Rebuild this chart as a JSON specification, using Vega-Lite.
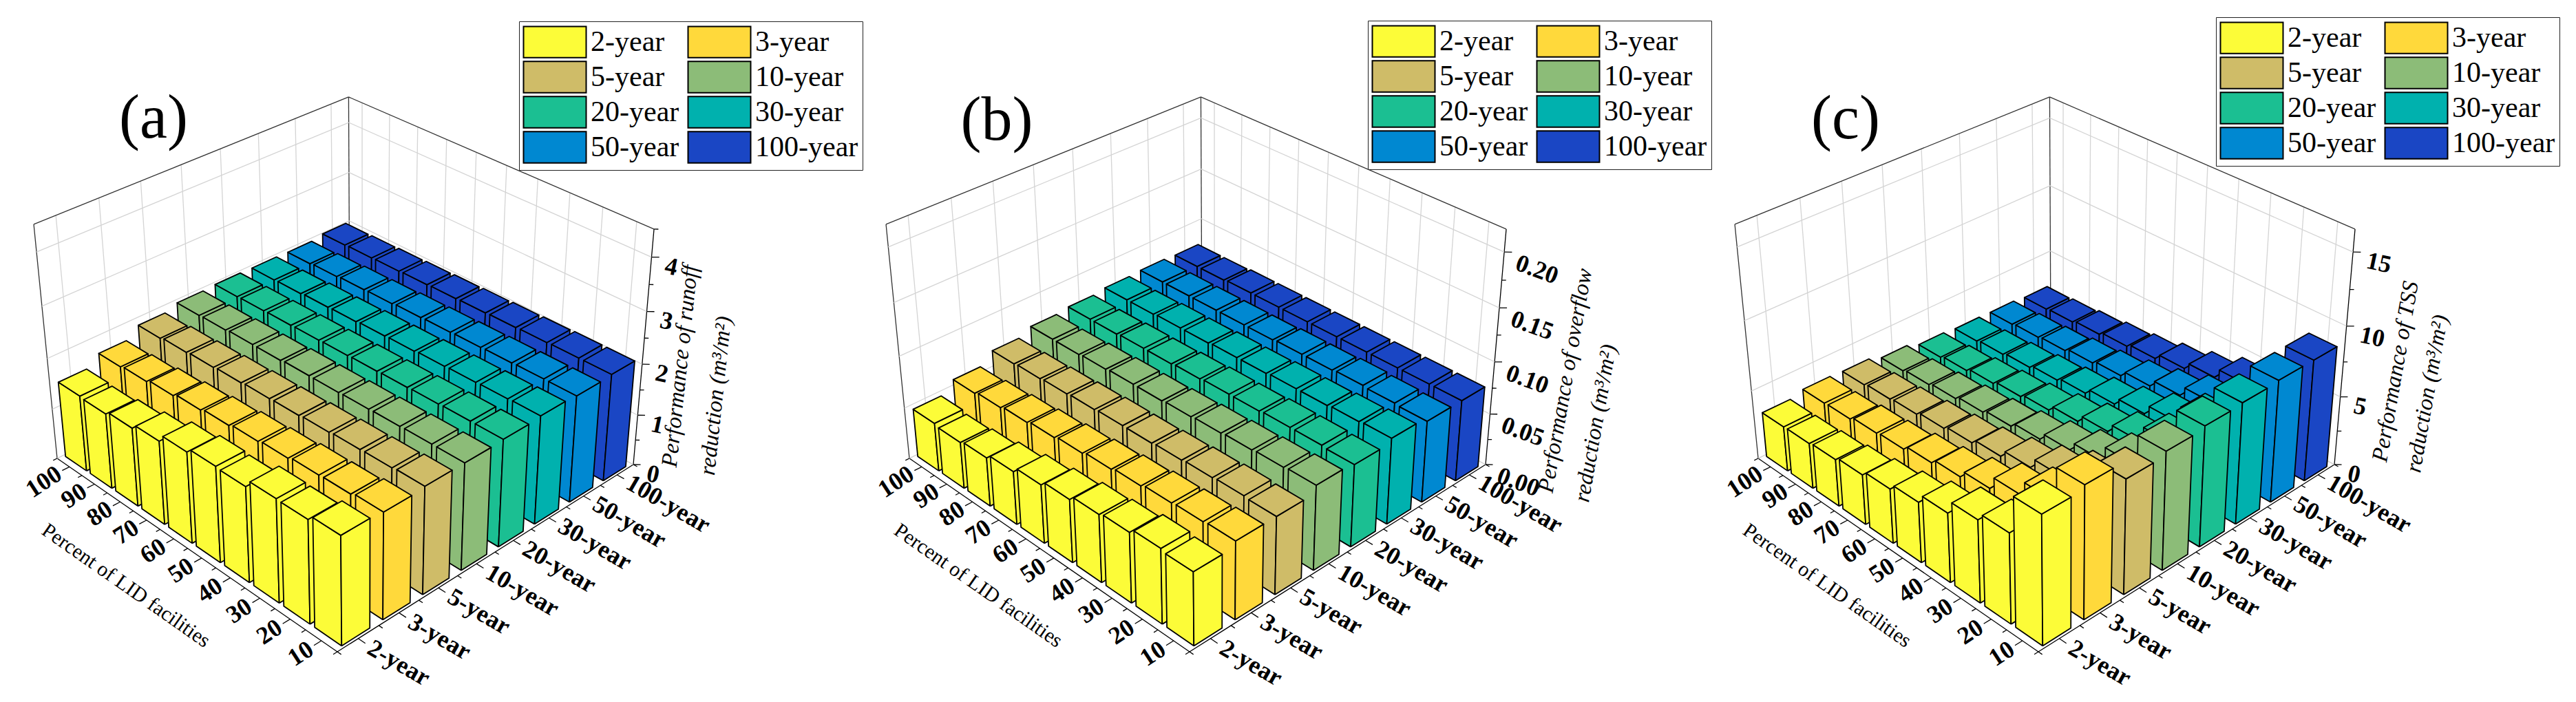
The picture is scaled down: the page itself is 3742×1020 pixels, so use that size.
{"$schema":"https://vega.github.io/schema/vega-lite/v6.json","padding":0,"spacing":0,"bounds":"flush","background":"white","config":{"view":{"stroke":null},"concat":{"spacing":0}},
"datasets":{
"segs":[
{"kind":"grid","ua":0,"va":1,"wa":0,"ub":1,"vb":1,"wb":0},{"kind":"grid","ua":1,"va":1,"wa":0,"ub":1,"vb":0,"wb":0},
{"kind":"grid","ua":0.0625,"va":1,"wa":0,"ub":0.0625,"vb":1,"wb":1},{"kind":"grid","ua":0.1875,"va":1,"wa":0,"ub":0.1875,"vb":1,"wb":1},{"kind":"grid","ua":0.3125,"va":1,"wa":0,"ub":0.3125,"vb":1,"wb":1},{"kind":"grid","ua":0.4375,"va":1,"wa":0,"ub":0.4375,"vb":1,"wb":1},{"kind":"grid","ua":0.5625,"va":1,"wa":0,"ub":0.5625,"vb":1,"wb":1},{"kind":"grid","ua":0.6875,"va":1,"wa":0,"ub":0.6875,"vb":1,"wb":1},{"kind":"grid","ua":0.8125,"va":1,"wa":0,"ub":0.8125,"vb":1,"wb":1},{"kind":"grid","ua":0.9375,"va":1,"wa":0,"ub":0.9375,"vb":1,"wb":1},
{"kind":"grid","ua":1,"va":0.05,"wa":0,"ub":1,"vb":0.05,"wb":1},{"kind":"grid","ua":1,"va":0.15,"wa":0,"ub":1,"vb":0.15,"wb":1},{"kind":"grid","ua":1,"va":0.25,"wa":0,"ub":1,"vb":0.25,"wb":1},{"kind":"grid","ua":1,"va":0.35,"wa":0,"ub":1,"vb":0.35,"wb":1},{"kind":"grid","ua":1,"va":0.45,"wa":0,"ub":1,"vb":0.45,"wb":1},{"kind":"grid","ua":1,"va":0.55,"wa":0,"ub":1,"vb":0.55,"wb":1},{"kind":"grid","ua":1,"va":0.65,"wa":0,"ub":1,"vb":0.65,"wb":1},{"kind":"grid","ua":1,"va":0.75,"wa":0,"ub":1,"vb":0.75,"wb":1},{"kind":"grid","ua":1,"va":0.85,"wa":0,"ub":1,"vb":0.85,"wb":1},{"kind":"grid","ua":1,"va":0.95,"wa":0,"ub":1,"vb":0.95,"wb":1},
{"kind":"frame","ua":0,"va":1,"wa":1,"ub":1,"vb":1,"wb":1},{"kind":"frame","ua":1,"va":1,"wa":1,"ub":1,"vb":0,"wb":1},{"kind":"frame","ua":0,"va":1,"wa":1,"ub":0,"vb":1,"wb":0},{"kind":"frame","ua":1,"va":1,"wa":1,"ub":1,"vb":1,"wb":0},
{"kind":"axis","ua":0,"va":0,"wa":0,"ub":0,"vb":1,"wb":0},{"kind":"axis","ua":0,"va":0,"wa":0,"ub":1,"vb":0,"wb":0},{"kind":"axis","ua":1,"va":0,"wa":0,"ub":1,"vb":0,"wb":1},
{"kind":"axis","ua":0.0625,"va":0,"wa":0,"ub":0.0625,"vb":-0.022,"wb":0},{"kind":"axis","ua":0.1875,"va":0,"wa":0,"ub":0.1875,"vb":-0.022,"wb":0},{"kind":"axis","ua":0.3125,"va":0,"wa":0,"ub":0.3125,"vb":-0.022,"wb":0},{"kind":"axis","ua":0.4375,"va":0,"wa":0,"ub":0.4375,"vb":-0.022,"wb":0},{"kind":"axis","ua":0.5625,"va":0,"wa":0,"ub":0.5625,"vb":-0.022,"wb":0},{"kind":"axis","ua":0.6875,"va":0,"wa":0,"ub":0.6875,"vb":-0.022,"wb":0},{"kind":"axis","ua":0.8125,"va":0,"wa":0,"ub":0.8125,"vb":-0.022,"wb":0},{"kind":"axis","ua":0.9375,"va":0,"wa":0,"ub":0.9375,"vb":-0.022,"wb":0},
{"kind":"axis","ua":0,"va":0,"wa":0,"ub":0,"vb":-0.012,"wb":0},{"kind":"axis","ua":0.125,"va":0,"wa":0,"ub":0.125,"vb":-0.012,"wb":0},{"kind":"axis","ua":0.25,"va":0,"wa":0,"ub":0.25,"vb":-0.012,"wb":0},{"kind":"axis","ua":0.375,"va":0,"wa":0,"ub":0.375,"vb":-0.012,"wb":0},{"kind":"axis","ua":0.5,"va":0,"wa":0,"ub":0.5,"vb":-0.012,"wb":0},{"kind":"axis","ua":0.625,"va":0,"wa":0,"ub":0.625,"vb":-0.012,"wb":0},{"kind":"axis","ua":0.75,"va":0,"wa":0,"ub":0.75,"vb":-0.012,"wb":0},{"kind":"axis","ua":0.875,"va":0,"wa":0,"ub":0.875,"vb":-0.012,"wb":0},{"kind":"axis","ua":1,"va":0,"wa":0,"ub":1,"vb":-0.012,"wb":0},
{"kind":"axis","ua":0,"va":0.05,"wa":0,"ub":-0.022,"vb":0.05,"wb":0},{"kind":"axis","ua":0,"va":0.15,"wa":0,"ub":-0.022,"vb":0.15,"wb":0},{"kind":"axis","ua":0,"va":0.25,"wa":0,"ub":-0.022,"vb":0.25,"wb":0},{"kind":"axis","ua":0,"va":0.35,"wa":0,"ub":-0.022,"vb":0.35,"wb":0},{"kind":"axis","ua":0,"va":0.45,"wa":0,"ub":-0.022,"vb":0.45,"wb":0},{"kind":"axis","ua":0,"va":0.55,"wa":0,"ub":-0.022,"vb":0.55,"wb":0},{"kind":"axis","ua":0,"va":0.65,"wa":0,"ub":-0.022,"vb":0.65,"wb":0},{"kind":"axis","ua":0,"va":0.75,"wa":0,"ub":-0.022,"vb":0.75,"wb":0},{"kind":"axis","ua":0,"va":0.85,"wa":0,"ub":-0.022,"vb":0.85,"wb":0},{"kind":"axis","ua":0,"va":0.95,"wa":0,"ub":-0.022,"vb":0.95,"wb":0},
{"kind":"axis","ua":0,"va":0,"wa":0,"ub":-0.012,"vb":0,"wb":0},{"kind":"axis","ua":0,"va":0.1,"wa":0,"ub":-0.012,"vb":0.1,"wb":0},{"kind":"axis","ua":0,"va":0.2,"wa":0,"ub":-0.012,"vb":0.2,"wb":0},{"kind":"axis","ua":0,"va":0.3,"wa":0,"ub":-0.012,"vb":0.3,"wb":0},{"kind":"axis","ua":0,"va":0.4,"wa":0,"ub":-0.012,"vb":0.4,"wb":0},{"kind":"axis","ua":0,"va":0.5,"wa":0,"ub":-0.012,"vb":0.5,"wb":0},{"kind":"axis","ua":0,"va":0.6,"wa":0,"ub":-0.012,"vb":0.6,"wb":0},{"kind":"axis","ua":0,"va":0.7,"wa":0,"ub":-0.012,"vb":0.7,"wb":0},{"kind":"axis","ua":0,"va":0.8,"wa":0,"ub":-0.012,"vb":0.8,"wb":0},{"kind":"axis","ua":0,"va":0.9,"wa":0,"ub":-0.012,"vb":0.9,"wb":0},{"kind":"axis","ua":0,"va":1,"wa":0,"ub":-0.012,"vb":1,"wb":0}
],
"vticks":[
{"g":"a","value":0,"major":true},{"g":"a","value":1,"major":true},{"g":"a","value":2,"major":true},{"g":"a","value":3,"major":true},{"g":"a","value":4,"major":true},{"g":"a","value":0.5,"major":false},{"g":"a","value":1.5,"major":false},{"g":"a","value":2.5,"major":false},{"g":"a","value":3.5,"major":false},{"g":"a","value":4.5,"major":false},
{"g":"b","value":0,"major":true},{"g":"b","value":0.05,"major":true},{"g":"b","value":0.1,"major":true},{"g":"b","value":0.15,"major":true},{"g":"b","value":0.2,"major":true},{"g":"b","value":0.025,"major":false},{"g":"b","value":0.075,"major":false},{"g":"b","value":0.125,"major":false},{"g":"b","value":0.175,"major":false},
{"g":"c","value":0,"major":true},{"g":"c","value":5,"major":true},{"g":"c","value":10,"major":true},{"g":"c","value":15,"major":true},{"g":"c","value":2.5,"major":false},{"g":"c","value":7.5,"major":false},{"g":"c","value":12.5,"major":false}
],
"catlabels":[
{"axis":"period","label":"2-year","pos":0.0625},{"axis":"period","label":"3-year","pos":0.1875},{"axis":"period","label":"5-year","pos":0.3125},{"axis":"period","label":"10-year","pos":0.4375},{"axis":"period","label":"20-year","pos":0.5625},{"axis":"period","label":"30-year","pos":0.6875},{"axis":"period","label":"50-year","pos":0.8125},{"axis":"period","label":"100-year","pos":0.9375},
{"axis":"percent","label":"10","pos":0.05},{"axis":"percent","label":"20","pos":0.15},{"axis":"percent","label":"30","pos":0.25},{"axis":"percent","label":"40","pos":0.35},{"axis":"percent","label":"50","pos":0.45},{"axis":"percent","label":"60","pos":0.55},{"axis":"percent","label":"70","pos":0.65},{"axis":"percent","label":"80","pos":0.75},{"axis":"percent","label":"90","pos":0.85},{"axis":"percent","label":"100","pos":0.95}
],
"bars":[
{"g":"a","period":"100-year","i":7,"percent":100,"value":2.02},{"g":"a","period":"100-year","i":7,"percent":90,"value":2.03},{"g":"a","period":"100-year","i":7,"percent":80,"value":2.04},{"g":"a","period":"100-year","i":7,"percent":70,"value":2.05},{"g":"a","period":"100-year","i":7,"percent":60,"value":2.06},{"g":"a","period":"100-year","i":7,"percent":50,"value":2.07},{"g":"a","period":"100-year","i":7,"percent":40,"value":2.08},{"g":"a","period":"100-year","i":7,"percent":30,"value":2.09},{"g":"a","period":"100-year","i":7,"percent":20,"value":2.1},{"g":"a","period":"100-year","i":7,"percent":10,"value":2.1},
{"g":"a","period":"50-year","i":6,"percent":100,"value":1.97},{"g":"a","period":"50-year","i":6,"percent":90,"value":1.99},{"g":"a","period":"50-year","i":6,"percent":80,"value":2.01},{"g":"a","period":"50-year","i":6,"percent":70,"value":2.02},{"g":"a","period":"50-year","i":6,"percent":60,"value":2.04},{"g":"a","period":"50-year","i":6,"percent":50,"value":2.05},{"g":"a","period":"50-year","i":6,"percent":40,"value":2.06},{"g":"a","period":"50-year","i":6,"percent":30,"value":2.07},{"g":"a","period":"50-year","i":6,"percent":20,"value":2.08},{"g":"a","period":"50-year","i":6,"percent":10,"value":2.08},
{"g":"a","period":"30-year","i":5,"percent":100,"value":1.98},{"g":"a","period":"30-year","i":5,"percent":90,"value":1.99},{"g":"a","period":"30-year","i":5,"percent":80,"value":2.01},{"g":"a","period":"30-year","i":5,"percent":70,"value":2.02},{"g":"a","period":"30-year","i":5,"percent":60,"value":2.04},{"g":"a","period":"30-year","i":5,"percent":50,"value":2.05},{"g":"a","period":"30-year","i":5,"percent":40,"value":2.07},{"g":"a","period":"30-year","i":5,"percent":30,"value":2.08},{"g":"a","period":"30-year","i":5,"percent":20,"value":2.09},{"g":"a","period":"30-year","i":5,"percent":10,"value":2.1},
{"g":"a","period":"20-year","i":4,"percent":100,"value":1.99},{"g":"a","period":"20-year","i":4,"percent":90,"value":2.0},{"g":"a","period":"20-year","i":4,"percent":80,"value":2.01},{"g":"a","period":"20-year","i":4,"percent":70,"value":2.02},{"g":"a","period":"20-year","i":4,"percent":60,"value":2.03},{"g":"a","period":"20-year","i":4,"percent":50,"value":2.04},{"g":"a","period":"20-year","i":4,"percent":40,"value":2.05},{"g":"a","period":"20-year","i":4,"percent":30,"value":2.06},{"g":"a","period":"20-year","i":4,"percent":20,"value":2.07},{"g":"a","period":"20-year","i":4,"percent":10,"value":2.07},
{"g":"a","period":"10-year","i":3,"percent":100,"value":1.97},{"g":"a","period":"10-year","i":3,"percent":90,"value":1.98},{"g":"a","period":"10-year","i":3,"percent":80,"value":2.0},{"g":"a","period":"10-year","i":3,"percent":70,"value":2.0},{"g":"a","period":"10-year","i":3,"percent":60,"value":2.02},{"g":"a","period":"10-year","i":3,"percent":50,"value":2.02},{"g":"a","period":"10-year","i":3,"percent":40,"value":2.03},{"g":"a","period":"10-year","i":3,"percent":30,"value":2.04},{"g":"a","period":"10-year","i":3,"percent":20,"value":2.05},{"g":"a","period":"10-year","i":3,"percent":10,"value":2.05},
{"g":"a","period":"5-year","i":2,"percent":100,"value":1.88},{"g":"a","period":"5-year","i":2,"percent":90,"value":1.91},{"g":"a","period":"5-year","i":2,"percent":80,"value":1.93},{"g":"a","period":"5-year","i":2,"percent":70,"value":1.95},{"g":"a","period":"5-year","i":2,"percent":60,"value":1.97},{"g":"a","period":"5-year","i":2,"percent":50,"value":1.98},{"g":"a","period":"5-year","i":2,"percent":40,"value":2.0},{"g":"a","period":"5-year","i":2,"percent":30,"value":2.02},{"g":"a","period":"5-year","i":2,"percent":20,"value":2.03},{"g":"a","period":"5-year","i":2,"percent":10,"value":2.05},
{"g":"a","period":"3-year","i":1,"percent":100,"value":1.69},{"g":"a","period":"3-year","i":1,"percent":90,"value":1.72},{"g":"a","period":"3-year","i":1,"percent":80,"value":1.77},{"g":"a","period":"3-year","i":1,"percent":70,"value":1.82},{"g":"a","period":"3-year","i":1,"percent":60,"value":1.86},{"g":"a","period":"3-year","i":1,"percent":50,"value":1.9},{"g":"a","period":"3-year","i":1,"percent":40,"value":1.93},{"g":"a","period":"3-year","i":1,"percent":30,"value":1.97},{"g":"a","period":"3-year","i":1,"percent":20,"value":1.98},{"g":"a","period":"3-year","i":1,"percent":10,"value":2.02},
{"g":"a","period":"2-year","i":0,"percent":100,"value":1.5},{"g":"a","period":"2-year","i":0,"percent":90,"value":1.48},{"g":"a","period":"2-year","i":0,"percent":80,"value":1.54},{"g":"a","period":"2-year","i":0,"percent":70,"value":1.63},{"g":"a","period":"2-year","i":0,"percent":60,"value":1.77},{"g":"a","period":"2-year","i":0,"percent":50,"value":1.85},{"g":"a","period":"2-year","i":0,"percent":40,"value":1.83},{"g":"a","period":"2-year","i":0,"percent":30,"value":1.97},{"g":"a","period":"2-year","i":0,"percent":20,"value":1.96},{"g":"a","period":"2-year","i":0,"percent":10,"value":2.05},
{"g":"b","period":"100-year","i":7,"percent":100,"value":0.077},{"g":"b","period":"100-year","i":7,"percent":90,"value":0.077},{"g":"b","period":"100-year","i":7,"percent":80,"value":0.078},{"g":"b","period":"100-year","i":7,"percent":70,"value":0.078},{"g":"b","period":"100-year","i":7,"percent":60,"value":0.078},{"g":"b","period":"100-year","i":7,"percent":50,"value":0.078},{"g":"b","period":"100-year","i":7,"percent":40,"value":0.078},{"g":"b","period":"100-year","i":7,"percent":30,"value":0.078},{"g":"b","period":"100-year","i":7,"percent":20,"value":0.078},{"g":"b","period":"100-year","i":7,"percent":10,"value":0.078},
{"g":"b","period":"50-year","i":6,"percent":100,"value":0.078},{"g":"b","period":"50-year","i":6,"percent":90,"value":0.078},{"g":"b","period":"50-year","i":6,"percent":80,"value":0.078},{"g":"b","period":"50-year","i":6,"percent":70,"value":0.078},{"g":"b","period":"50-year","i":6,"percent":60,"value":0.078},{"g":"b","period":"50-year","i":6,"percent":50,"value":0.079},{"g":"b","period":"50-year","i":6,"percent":40,"value":0.079},{"g":"b","period":"50-year","i":6,"percent":30,"value":0.08},{"g":"b","period":"50-year","i":6,"percent":20,"value":0.079},{"g":"b","period":"50-year","i":6,"percent":10,"value":0.078},
{"g":"b","period":"30-year","i":5,"percent":100,"value":0.077},{"g":"b","period":"30-year","i":5,"percent":90,"value":0.077},{"g":"b","period":"30-year","i":5,"percent":80,"value":0.078},{"g":"b","period":"30-year","i":5,"percent":70,"value":0.078},{"g":"b","period":"30-year","i":5,"percent":60,"value":0.079},{"g":"b","period":"30-year","i":5,"percent":50,"value":0.079},{"g":"b","period":"30-year","i":5,"percent":40,"value":0.08},{"g":"b","period":"30-year","i":5,"percent":30,"value":0.08},{"g":"b","period":"30-year","i":5,"percent":20,"value":0.081},{"g":"b","period":"30-year","i":5,"percent":10,"value":0.082},
{"g":"b","period":"20-year","i":4,"percent":100,"value":0.075},{"g":"b","period":"20-year","i":4,"percent":90,"value":0.075},{"g":"b","period":"20-year","i":4,"percent":80,"value":0.076},{"g":"b","period":"20-year","i":4,"percent":70,"value":0.076},{"g":"b","period":"20-year","i":4,"percent":60,"value":0.077},{"g":"b","period":"20-year","i":4,"percent":50,"value":0.078},{"g":"b","period":"20-year","i":4,"percent":40,"value":0.078},{"g":"b","period":"20-year","i":4,"percent":30,"value":0.079},{"g":"b","period":"20-year","i":4,"percent":20,"value":0.079},{"g":"b","period":"20-year","i":4,"percent":10,"value":0.078},
{"g":"b","period":"10-year","i":3,"percent":100,"value":0.073},{"g":"b","period":"10-year","i":3,"percent":90,"value":0.073},{"g":"b","period":"10-year","i":3,"percent":80,"value":0.074},{"g":"b","period":"10-year","i":3,"percent":70,"value":0.075},{"g":"b","period":"10-year","i":3,"percent":60,"value":0.075},{"g":"b","period":"10-year","i":3,"percent":50,"value":0.076},{"g":"b","period":"10-year","i":3,"percent":40,"value":0.077},{"g":"b","period":"10-year","i":3,"percent":30,"value":0.078},{"g":"b","period":"10-year","i":3,"percent":20,"value":0.079},{"g":"b","period":"10-year","i":3,"percent":10,"value":0.08},
{"g":"b","period":"5-year","i":2,"percent":100,"value":0.067},{"g":"b","period":"5-year","i":2,"percent":90,"value":0.068},{"g":"b","period":"5-year","i":2,"percent":80,"value":0.069},{"g":"b","period":"5-year","i":2,"percent":70,"value":0.07},{"g":"b","period":"5-year","i":2,"percent":60,"value":0.071},{"g":"b","period":"5-year","i":2,"percent":50,"value":0.071},{"g":"b","period":"5-year","i":2,"percent":40,"value":0.072},{"g":"b","period":"5-year","i":2,"percent":30,"value":0.073},{"g":"b","period":"5-year","i":2,"percent":20,"value":0.074},{"g":"b","period":"5-year","i":2,"percent":10,"value":0.073},
{"g":"b","period":"3-year","i":1,"percent":100,"value":0.057},{"g":"b","period":"3-year","i":1,"percent":90,"value":0.059},{"g":"b","period":"3-year","i":1,"percent":80,"value":0.061},{"g":"b","period":"3-year","i":1,"percent":70,"value":0.063},{"g":"b","period":"3-year","i":1,"percent":60,"value":0.065},{"g":"b","period":"3-year","i":1,"percent":50,"value":0.067},{"g":"b","period":"3-year","i":1,"percent":40,"value":0.069},{"g":"b","period":"3-year","i":1,"percent":30,"value":0.071},{"g":"b","period":"3-year","i":1,"percent":20,"value":0.072},{"g":"b","period":"3-year","i":1,"percent":10,"value":0.073},
{"g":"b","period":"2-year","i":0,"percent":100,"value":0.047},{"g":"b","period":"2-year","i":0,"percent":90,"value":0.045},{"g":"b","period":"2-year","i":0,"percent":80,"value":0.047},{"g":"b","period":"2-year","i":0,"percent":70,"value":0.051},{"g":"b","period":"2-year","i":0,"percent":60,"value":0.056},{"g":"b","period":"2-year","i":0,"percent":50,"value":0.06},{"g":"b","period":"2-year","i":0,"percent":40,"value":0.064},{"g":"b","period":"2-year","i":0,"percent":30,"value":0.066},{"g":"b","period":"2-year","i":0,"percent":20,"value":0.07},{"g":"b","period":"2-year","i":0,"percent":10,"value":0.068},
{"g":"c","period":"100-year","i":7,"percent":100,"value":2.47},{"g":"c","period":"100-year","i":7,"percent":90,"value":2.55},{"g":"c","period":"100-year","i":7,"percent":80,"value":2.7},{"g":"c","period":"100-year","i":7,"percent":70,"value":2.9},{"g":"c","period":"100-year","i":7,"percent":60,"value":3.1},{"g":"c","period":"100-year","i":7,"percent":50,"value":3.5},{"g":"c","period":"100-year","i":7,"percent":40,"value":4.0},{"g":"c","period":"100-year","i":7,"percent":30,"value":4.7},{"g":"c","period":"100-year","i":7,"percent":20,"value":5.9},{"g":"c","period":"100-year","i":7,"percent":10,"value":8.7},
{"g":"c","period":"50-year","i":6,"percent":100,"value":2.6},{"g":"c","period":"50-year","i":6,"percent":90,"value":2.7},{"g":"c","period":"50-year","i":6,"percent":80,"value":2.8},{"g":"c","period":"50-year","i":6,"percent":70,"value":3.0},{"g":"c","period":"50-year","i":6,"percent":60,"value":3.2},{"g":"c","period":"50-year","i":6,"percent":50,"value":3.6},{"g":"c","period":"50-year","i":6,"percent":40,"value":4.1},{"g":"c","period":"50-year","i":6,"percent":30,"value":4.8},{"g":"c","period":"50-year","i":6,"percent":20,"value":5.9},{"g":"c","period":"50-year","i":6,"percent":10,"value":8.7},
{"g":"c","period":"30-year","i":5,"percent":100,"value":2.64},{"g":"c","period":"30-year","i":5,"percent":90,"value":2.75},{"g":"c","period":"30-year","i":5,"percent":80,"value":2.9},{"g":"c","period":"30-year","i":5,"percent":70,"value":3.1},{"g":"c","period":"30-year","i":5,"percent":60,"value":3.3},{"g":"c","period":"30-year","i":5,"percent":50,"value":3.7},{"g":"c","period":"30-year","i":5,"percent":40,"value":4.2},{"g":"c","period":"30-year","i":5,"percent":30,"value":4.9},{"g":"c","period":"30-year","i":5,"percent":20,"value":6.06},{"g":"c","period":"30-year","i":5,"percent":10,"value":8.6},
{"g":"c","period":"20-year","i":4,"percent":100,"value":2.76},{"g":"c","period":"20-year","i":4,"percent":90,"value":2.9},{"g":"c","period":"20-year","i":4,"percent":80,"value":3.1},{"g":"c","period":"20-year","i":4,"percent":70,"value":3.3},{"g":"c","period":"20-year","i":4,"percent":60,"value":3.5},{"g":"c","period":"20-year","i":4,"percent":50,"value":3.9},{"g":"c","period":"20-year","i":4,"percent":40,"value":4.4},{"g":"c","period":"20-year","i":4,"percent":30,"value":5.0},{"g":"c","period":"20-year","i":4,"percent":20,"value":6.1},{"g":"c","period":"20-year","i":4,"percent":10,"value":8.5},
{"g":"c","period":"10-year","i":3,"percent":100,"value":3.12},{"g":"c","period":"10-year","i":3,"percent":90,"value":3.25},{"g":"c","period":"10-year","i":3,"percent":80,"value":3.4},{"g":"c","period":"10-year","i":3,"percent":70,"value":3.6},{"g":"c","period":"10-year","i":3,"percent":60,"value":3.8},{"g":"c","period":"10-year","i":3,"percent":50,"value":4.1},{"g":"c","period":"10-year","i":3,"percent":40,"value":4.6},{"g":"c","period":"10-year","i":3,"percent":30,"value":5.2},{"g":"c","period":"10-year","i":3,"percent":20,"value":6.2},{"g":"c","period":"10-year","i":3,"percent":10,"value":8.3},
{"g":"c","period":"5-year","i":2,"percent":100,"value":3.48},{"g":"c","period":"5-year","i":2,"percent":90,"value":3.6},{"g":"c","period":"5-year","i":2,"percent":80,"value":3.7},{"g":"c","period":"5-year","i":2,"percent":70,"value":3.9},{"g":"c","period":"5-year","i":2,"percent":60,"value":4.1},{"g":"c","period":"5-year","i":2,"percent":50,"value":4.4},{"g":"c","period":"5-year","i":2,"percent":40,"value":4.9},{"g":"c","period":"5-year","i":2,"percent":30,"value":5.6},{"g":"c","period":"5-year","i":2,"percent":20,"value":6.5},{"g":"c","period":"5-year","i":2,"percent":10,"value":8.0},
{"g":"c","period":"3-year","i":1,"percent":100,"value":3.55},{"g":"c","period":"3-year","i":1,"percent":90,"value":3.6},{"g":"c","period":"3-year","i":1,"percent":80,"value":3.8},{"g":"c","period":"3-year","i":1,"percent":70,"value":3.9},{"g":"c","period":"3-year","i":1,"percent":60,"value":4.2},{"g":"c","period":"3-year","i":1,"percent":50,"value":4.5},{"g":"c","period":"3-year","i":1,"percent":40,"value":5.0},{"g":"c","period":"3-year","i":1,"percent":30,"value":5.9},{"g":"c","period":"3-year","i":1,"percent":20,"value":6.9},{"g":"c","period":"3-year","i":1,"percent":10,"value":9.2},
{"g":"c","period":"2-year","i":0,"percent":100,"value":3.27},{"g":"c","period":"2-year","i":0,"percent":90,"value":3.3},{"g":"c","period":"2-year","i":0,"percent":80,"value":3.4},{"g":"c","period":"2-year","i":0,"percent":70,"value":3.6},{"g":"c","period":"2-year","i":0,"percent":60,"value":3.9},{"g":"c","period":"2-year","i":0,"percent":50,"value":4.3},{"g":"c","period":"2-year","i":0,"percent":40,"value":4.9},{"g":"c","period":"2-year","i":0,"percent":30,"value":5.8},{"g":"c","period":"2-year","i":0,"percent":20,"value":6.3},{"g":"c","period":"2-year","i":0,"percent":10,"value":8.9}
]},
"hconcat":[
{"width":1238,"height":1020,"layer":[
{"data":{"name":"segs"},"transform":[{"calculate":"(558.8*datum.ua-394.7*datum.va-43*datum.wa+490)/(1+0.14*datum.ua+0.148*datum.va-0.0813*datum.wa)","as":"x"},{"calculate":"(-177.5*datum.ua-182.4*datum.va-417*datum.wa+947)/(1+0.14*datum.ua+0.148*datum.va-0.0813*datum.wa)","as":"y"},{"calculate":"(558.8*datum.ub-394.7*datum.vb-43*datum.wb+490)/(1+0.14*datum.ub+0.148*datum.vb-0.0813*datum.wb)","as":"x2"},{"calculate":"(-177.5*datum.ub-182.4*datum.vb-417*datum.wb+947)/(1+0.14*datum.ub+0.148*datum.vb-0.0813*datum.wb)","as":"y2"}],"mark":{"type":"rule"},"encoding":{"x":{"field":"x","type":"quantitative","scale":{"domain":[0,1238]},"axis":null},"y":{"field":"y","type":"quantitative","scale":{"domain":[1020,0]},"axis":null},"x2":{"field":"x2"},"y2":{"field":"y2"},"stroke":{"field":"kind","scale":{"domain":["grid","frame","axis"],"range":["#d4d4d4","#333333","#000000"]},"legend":null},"strokeWidth":{"field":"kind","scale":{"domain":["grid","frame","axis"],"range":[1.3,1.3,2.6]},"legend":null}}},
{"data":{"name":"vticks"},"transform":[{"filter":"datum.g=='a'"},{"calculate":"datum.value/4.5","as":"w"},{"calculate":"datum.major?[0,1,2]:[2]","as":"seg"},{"flatten":["seg"]},{"calculate":"datum.major?0.0125:0.007","as":"l"},{"calculate":"[0,1,1][datum.seg]","as":"ua"},{"calculate":"[1,1,0][datum.seg]","as":"va"},{"calculate":"[1,1,1+datum.l][datum.seg]","as":"ub"},{"calculate":"[1,0,-datum.l][datum.seg]","as":"vb"},{"calculate":"(558.8*datum.ua-394.7*datum.va-43*datum.w+490)/(1+0.14*datum.ua+0.148*datum.va-0.0813*datum.w)","as":"x"},{"calculate":"(-177.5*datum.ua-182.4*datum.va-417*datum.w+947)/(1+0.14*datum.ua+0.148*datum.va-0.0813*datum.w)","as":"y"},{"calculate":"(558.8*datum.ub-394.7*datum.vb-43*datum.w+490)/(1+0.14*datum.ub+0.148*datum.vb-0.0813*datum.w)","as":"x2"},{"calculate":"(-177.5*datum.ub-182.4*datum.vb-417*datum.w+947)/(1+0.14*datum.ub+0.148*datum.vb-0.0813*datum.w)","as":"y2"},{"calculate":"datum.seg<2?'grid':'axis'","as":"kind"}],"mark":{"type":"rule"},"encoding":{"x":{"field":"x","type":"quantitative","scale":{"domain":[0,1238]},"axis":null},"y":{"field":"y","type":"quantitative","scale":{"domain":[1020,0]},"axis":null},"x2":{"field":"x2"},"y2":{"field":"y2"},"stroke":{"field":"kind","scale":{"domain":["grid","frame","axis"],"range":["#d4d4d4","#333333","#000000"]},"legend":null},"strokeWidth":{"field":"kind","scale":{"domain":["grid","frame","axis"],"range":[1.3,1.3,2.6]},"legend":null}}},
{"data":{"name":"bars"},"transform":[{"filter":"datum.g=='a'"},{"calculate":"(datum.i+0.16)/8","as":"u0"},{"calculate":"(datum.i+0.84)/8","as":"u1"},{"calculate":"(datum.percent/10-0.925)/10","as":"v0"},{"calculate":"(datum.percent/10-0.075)/10","as":"v1"},{"calculate":"datum.value/4.5","as":"h"},{"calculate":"[0,1,2]","as":"face"},{"flatten":["face"]},{"calculate":"[0,1,2,3,4]","as":"k"},{"flatten":["k"]},{"calculate":"[[datum.u0,datum.u0,datum.u0,datum.u0],[datum.u0,datum.u1,datum.u1,datum.u0],[datum.u0,datum.u1,datum.u1,datum.u0]][datum.face][datum.k%4]","as":"U"},{"calculate":"[[datum.v0,datum.v1,datum.v1,datum.v0],[datum.v0,datum.v0,datum.v0,datum.v0],[datum.v0,datum.v0,datum.v1,datum.v1]][datum.face][datum.k%4]","as":"V"},{"calculate":"[[0,0,datum.h,datum.h],[0,0,datum.h,datum.h],[datum.h,datum.h,datum.h,datum.h]][datum.face][datum.k%4]","as":"W"},{"calculate":"(558.8*datum.U-394.7*datum.V-43*datum.W+490)/(1+0.14*datum.U+0.148*datum.V-0.0813*datum.W)","as":"x"},{"calculate":"(-177.5*datum.U-182.4*datum.V-417*datum.W+947)/(1+0.14*datum.U+0.148*datum.V-0.0813*datum.W)","as":"y"},{"calculate":"datum.i+'-'+datum.percent+'-'+datum.face","as":"id"}],"mark":{"type":"line","stroke":"#000000","strokeWidth":1.8,"strokeJoin":"round"},"encoding":{"x":{"field":"x","type":"quantitative","scale":{"domain":[0,1238]},"axis":null},"y":{"field":"y","type":"quantitative","scale":{"domain":[1020,0]},"axis":null},"detail":{"field":"id"},"order":{"field":"k"},"fill":{"field":"period","type":"nominal","scale":{"domain":["2-year","3-year","5-year","10-year","20-year","30-year","50-year","100-year"],"range":["#fcfc38","#ffd93b","#cfbc68","#8cbc78","#1bbf92","#00b1ae","#0088d1","#1a46c4"]},"legend":{"orient":"none","legendX":754,"legendY":31,"columns":2,"direction":"horizontal","title":null,"symbolType":"M-2,-1H2V1H-2Z","symbolSize":2070,"symbolStrokeColor":"#000000","symbolStrokeWidth":2,"symbolOffset":22,"labelFont":"Liberation Serif","labelFontSize":42,"labelLimit":400,"labelOffset":28,"labelColor":"#000000","rowPadding":-4,"columnPadding":8,"padding":6,"strokeColor":"#222222","fillColor":"#ffffff"}}}},
{"data":{"name":"catlabels"},"transform":[{"filter":"datum.axis=='period'"},{"calculate":"(558.8*datum.pos+13.8+490)/(1+0.14*datum.pos-0.00518)","as":"x"},{"calculate":"(-177.5*datum.pos+6.4+947)/(1+0.14*datum.pos-0.00518)","as":"y"}],"mark":{"type":"text","font":"Liberation Serif","fontWeight":"bold","fontSize":36,"angle":30,"align":"left","baseline":"middle","color":"#000000"},"encoding":{"x":{"field":"x","type":"quantitative","scale":{"domain":[0,1238]},"axis":null},"y":{"field":"y","type":"quantitative","scale":{"domain":[1020,0]},"axis":null},"text":{"field":"label"}}},
{"data":{"name":"catlabels"},"transform":[{"filter":"datum.axis=='percent'"},{"calculate":"(-16.8-394.7*datum.pos+490)/(1-0.0042+0.148*datum.pos)","as":"x"},{"calculate":"(5.3-182.4*datum.pos+947)/(1-0.0042+0.148*datum.pos)","as":"y"}],"mark":{"type":"text","font":"Liberation Serif","fontWeight":"bold","fontSize":36,"angle":-33,"align":"right","baseline":"middle","color":"#000000"},"encoding":{"x":{"field":"x","type":"quantitative","scale":{"domain":[0,1238]},"axis":null},"y":{"field":"y","type":"quantitative","scale":{"domain":[1020,0]},"axis":null},"text":{"field":"label"}}},
{"data":{"name":"vticks"},"transform":[{"filter":"datum.g=='a'&&datum.major"},{"calculate":"datum.value/4.5","as":"w"},{"calculate":"(1048.8-43*datum.w)/(1.14-0.0813*datum.w)","as":"x"},{"calculate":"(769.5-417*datum.w)/(1.14-0.0813*datum.w)","as":"y"}],"mark":{"type":"text","font":"Liberation Serif","fontWeight":"bold","fontSize":36,"angle":12,"align":"left","baseline":"middle","dx":22,"dy":8,"color":"#000000"},"encoding":{"x":{"field":"x","type":"quantitative","scale":{"domain":[0,1238]},"axis":null},"y":{"field":"y","type":"quantitative","scale":{"domain":[1020,0]},"axis":null},"text":{"field":"value","type":"quantitative","format":"d"}}},
{"data":{"values":[{"t":"(a)"}]},"mark":{"type":"text","font":"Liberation Serif","fontSize":90,"color":"#000000","align":"center","baseline":"middle"},"encoding":{"x":{"datum":223,"type":"quantitative","scale":{"domain":[0,1238]},"axis":null},"y":{"datum":173,"type":"quantitative","scale":{"domain":[1020,0]},"axis":null},"text":{"field":"t"}}},
{"data":{"values":[{"t":"Percent of LID facilities"}]},"mark":{"type":"text","font":"Liberation Serif","fontSize":30,"angle":35,"color":"#000000","align":"center","baseline":"middle"},"encoding":{"x":{"datum":183,"type":"quantitative","scale":{"domain":[0,1238]},"axis":null},"y":{"datum":851,"type":"quantitative","scale":{"domain":[1020,0]},"axis":null},"text":{"field":"t"}}},
{"data":{"values":[{"t":"Performance of runoff"}]},"mark":{"type":"text","font":"Liberation Serif","fontStyle":"italic","fontSize":33,"angle":-84,"color":"#000000","align":"center","baseline":"middle"},"encoding":{"x":{"datum":988,"type":"quantitative","scale":{"domain":[0,1238]},"axis":null},"y":{"datum":532,"type":"quantitative","scale":{"domain":[1020,0]},"axis":null},"text":{"field":"t"}}},
{"data":{"values":[{"t":"reduction (m³/m²)"}]},"mark":{"type":"text","font":"Liberation Serif","fontStyle":"italic","fontSize":33,"angle":-84,"color":"#000000","align":"center","baseline":"middle"},"encoding":{"x":{"datum":1040,"type":"quantitative","scale":{"domain":[0,1238]},"axis":null},"y":{"datum":575,"type":"quantitative","scale":{"domain":[1020,0]},"axis":null},"text":{"field":"t"}}}
]},
{"width":1233,"height":1020,"layer":[
{"data":{"name":"segs"},"transform":[{"calculate":"(558.8*datum.ua-394.7*datum.va-43*datum.wa+490)/(1+0.14*datum.ua+0.148*datum.va-0.0813*datum.wa)","as":"x"},{"calculate":"(-177.5*datum.ua-182.4*datum.va-417*datum.wa+947)/(1+0.14*datum.ua+0.148*datum.va-0.0813*datum.wa)","as":"y"},{"calculate":"(558.8*datum.ub-394.7*datum.vb-43*datum.wb+490)/(1+0.14*datum.ub+0.148*datum.vb-0.0813*datum.wb)","as":"x2"},{"calculate":"(-177.5*datum.ub-182.4*datum.vb-417*datum.wb+947)/(1+0.14*datum.ub+0.148*datum.vb-0.0813*datum.wb)","as":"y2"}],"mark":{"type":"rule"},"encoding":{"x":{"field":"x","type":"quantitative","scale":{"domain":[0,1233]},"axis":null},"y":{"field":"y","type":"quantitative","scale":{"domain":[1020,0]},"axis":null},"x2":{"field":"x2"},"y2":{"field":"y2"},"stroke":{"field":"kind","scale":{"domain":["grid","frame","axis"],"range":["#d4d4d4","#333333","#000000"]},"legend":null},"strokeWidth":{"field":"kind","scale":{"domain":["grid","frame","axis"],"range":[1.3,1.3,2.6]},"legend":null}}},
{"data":{"name":"vticks"},"transform":[{"filter":"datum.g=='b'"},{"calculate":"datum.value/0.22","as":"w"},{"calculate":"datum.major?[0,1,2]:[2]","as":"seg"},{"flatten":["seg"]},{"calculate":"datum.major?0.0125:0.007","as":"l"},{"calculate":"[0,1,1][datum.seg]","as":"ua"},{"calculate":"[1,1,0][datum.seg]","as":"va"},{"calculate":"[1,1,1+datum.l][datum.seg]","as":"ub"},{"calculate":"[1,0,-datum.l][datum.seg]","as":"vb"},{"calculate":"(558.8*datum.ua-394.7*datum.va-43*datum.w+490)/(1+0.14*datum.ua+0.148*datum.va-0.0813*datum.w)","as":"x"},{"calculate":"(-177.5*datum.ua-182.4*datum.va-417*datum.w+947)/(1+0.14*datum.ua+0.148*datum.va-0.0813*datum.w)","as":"y"},{"calculate":"(558.8*datum.ub-394.7*datum.vb-43*datum.w+490)/(1+0.14*datum.ub+0.148*datum.vb-0.0813*datum.w)","as":"x2"},{"calculate":"(-177.5*datum.ub-182.4*datum.vb-417*datum.w+947)/(1+0.14*datum.ub+0.148*datum.vb-0.0813*datum.w)","as":"y2"},{"calculate":"datum.seg<2?'grid':'axis'","as":"kind"}],"mark":{"type":"rule"},"encoding":{"x":{"field":"x","type":"quantitative","scale":{"domain":[0,1233]},"axis":null},"y":{"field":"y","type":"quantitative","scale":{"domain":[1020,0]},"axis":null},"x2":{"field":"x2"},"y2":{"field":"y2"},"stroke":{"field":"kind","scale":{"domain":["grid","frame","axis"],"range":["#d4d4d4","#333333","#000000"]},"legend":null},"strokeWidth":{"field":"kind","scale":{"domain":["grid","frame","axis"],"range":[1.3,1.3,2.6]},"legend":null}}},
{"data":{"name":"bars"},"transform":[{"filter":"datum.g=='b'"},{"calculate":"(datum.i+0.16)/8","as":"u0"},{"calculate":"(datum.i+0.84)/8","as":"u1"},{"calculate":"(datum.percent/10-0.925)/10","as":"v0"},{"calculate":"(datum.percent/10-0.075)/10","as":"v1"},{"calculate":"datum.value/0.22","as":"h"},{"calculate":"[0,1,2]","as":"face"},{"flatten":["face"]},{"calculate":"[0,1,2,3,4]","as":"k"},{"flatten":["k"]},{"calculate":"[[datum.u0,datum.u0,datum.u0,datum.u0],[datum.u0,datum.u1,datum.u1,datum.u0],[datum.u0,datum.u1,datum.u1,datum.u0]][datum.face][datum.k%4]","as":"U"},{"calculate":"[[datum.v0,datum.v1,datum.v1,datum.v0],[datum.v0,datum.v0,datum.v0,datum.v0],[datum.v0,datum.v0,datum.v1,datum.v1]][datum.face][datum.k%4]","as":"V"},{"calculate":"[[0,0,datum.h,datum.h],[0,0,datum.h,datum.h],[datum.h,datum.h,datum.h,datum.h]][datum.face][datum.k%4]","as":"W"},{"calculate":"(558.8*datum.U-394.7*datum.V-43*datum.W+490)/(1+0.14*datum.U+0.148*datum.V-0.0813*datum.W)","as":"x"},{"calculate":"(-177.5*datum.U-182.4*datum.V-417*datum.W+947)/(1+0.14*datum.U+0.148*datum.V-0.0813*datum.W)","as":"y"},{"calculate":"datum.i+'-'+datum.percent+'-'+datum.face","as":"id"}],"mark":{"type":"line","stroke":"#000000","strokeWidth":1.8,"strokeJoin":"round"},"encoding":{"x":{"field":"x","type":"quantitative","scale":{"domain":[0,1233]},"axis":null},"y":{"field":"y","type":"quantitative","scale":{"domain":[1020,0]},"axis":null},"detail":{"field":"id"},"order":{"field":"k"},"fill":{"field":"period","type":"nominal","scale":{"domain":["2-year","3-year","5-year","10-year","20-year","30-year","50-year","100-year"],"range":["#fcfc38","#ffd93b","#cfbc68","#8cbc78","#1bbf92","#00b1ae","#0088d1","#1a46c4"]},"legend":{"orient":"none","legendX":749,"legendY":30,"columns":2,"direction":"horizontal","title":null,"symbolType":"M-2,-1H2V1H-2Z","symbolSize":2070,"symbolStrokeColor":"#000000","symbolStrokeWidth":2,"symbolOffset":22,"labelFont":"Liberation Serif","labelFontSize":42,"labelLimit":400,"labelOffset":28,"labelColor":"#000000","rowPadding":-4,"columnPadding":8,"padding":6,"strokeColor":"#222222","fillColor":"#ffffff"}}}},
{"data":{"name":"catlabels"},"transform":[{"filter":"datum.axis=='period'"},{"calculate":"(558.8*datum.pos+13.8+490)/(1+0.14*datum.pos-0.00518)","as":"x"},{"calculate":"(-177.5*datum.pos+6.4+947)/(1+0.14*datum.pos-0.00518)","as":"y"}],"mark":{"type":"text","font":"Liberation Serif","fontWeight":"bold","fontSize":36,"angle":30,"align":"left","baseline":"middle","color":"#000000"},"encoding":{"x":{"field":"x","type":"quantitative","scale":{"domain":[0,1233]},"axis":null},"y":{"field":"y","type":"quantitative","scale":{"domain":[1020,0]},"axis":null},"text":{"field":"label"}}},
{"data":{"name":"catlabels"},"transform":[{"filter":"datum.axis=='percent'"},{"calculate":"(-16.8-394.7*datum.pos+490)/(1-0.0042+0.148*datum.pos)","as":"x"},{"calculate":"(5.3-182.4*datum.pos+947)/(1-0.0042+0.148*datum.pos)","as":"y"}],"mark":{"type":"text","font":"Liberation Serif","fontWeight":"bold","fontSize":36,"angle":-33,"align":"right","baseline":"middle","color":"#000000"},"encoding":{"x":{"field":"x","type":"quantitative","scale":{"domain":[0,1233]},"axis":null},"y":{"field":"y","type":"quantitative","scale":{"domain":[1020,0]},"axis":null},"text":{"field":"label"}}},
{"data":{"name":"vticks"},"transform":[{"filter":"datum.g=='b'&&datum.major"},{"calculate":"datum.value/0.22","as":"w"},{"calculate":"(1048.8-43*datum.w)/(1.14-0.0813*datum.w)","as":"x"},{"calculate":"(769.5-417*datum.w)/(1.14-0.0813*datum.w)","as":"y"}],"mark":{"type":"text","font":"Liberation Serif","fontWeight":"bold","fontSize":36,"angle":20,"align":"left","baseline":"middle","dx":22,"dy":8,"color":"#000000"},"encoding":{"x":{"field":"x","type":"quantitative","scale":{"domain":[0,1233]},"axis":null},"y":{"field":"y","type":"quantitative","scale":{"domain":[1020,0]},"axis":null},"text":{"field":"value","type":"quantitative","format":".2f"}}},
{"data":{"values":[{"t":"(b)"}]},"mark":{"type":"text","font":"Liberation Serif","fontSize":90,"color":"#000000","align":"center","baseline":"middle"},"encoding":{"x":{"datum":210,"type":"quantitative","scale":{"domain":[0,1233]},"axis":null},"y":{"datum":176,"type":"quantitative","scale":{"domain":[1020,0]},"axis":null},"text":{"field":"t"}}},
{"data":{"values":[{"t":"Percent of LID facilities"}]},"mark":{"type":"text","font":"Liberation Serif","fontSize":30,"angle":35,"color":"#000000","align":"center","baseline":"middle"},"encoding":{"x":{"datum":183,"type":"quantitative","scale":{"domain":[0,1233]},"axis":null},"y":{"datum":851,"type":"quantitative","scale":{"domain":[1020,0]},"axis":null},"text":{"field":"t"}}},
{"data":{"values":[{"t":"Performance of overflow"}]},"mark":{"type":"text","font":"Liberation Serif","fontStyle":"italic","fontSize":33,"angle":-80,"color":"#000000","align":"center","baseline":"middle"},"encoding":{"x":{"datum":1036,"type":"quantitative","scale":{"domain":[0,1233]},"axis":null},"y":{"datum":553,"type":"quantitative","scale":{"domain":[1020,0]},"axis":null},"text":{"field":"t"}}},
{"data":{"values":[{"t":"reduction (m³/m²)"}]},"mark":{"type":"text","font":"Liberation Serif","fontStyle":"italic","fontSize":33,"angle":-80,"color":"#000000","align":"center","baseline":"middle"},"encoding":{"x":{"datum":1080,"type":"quantitative","scale":{"domain":[0,1233]},"axis":null},"y":{"datum":615,"type":"quantitative","scale":{"domain":[1020,0]},"axis":null},"text":{"field":"t"}}}
]},
{"width":1271,"height":1020,"layer":[
{"data":{"name":"segs"},"transform":[{"calculate":"(558.8*datum.ua-394.7*datum.va-43*datum.wa+490)/(1+0.14*datum.ua+0.148*datum.va-0.0813*datum.wa)","as":"x"},{"calculate":"(-177.5*datum.ua-182.4*datum.va-417*datum.wa+947)/(1+0.14*datum.ua+0.148*datum.va-0.0813*datum.wa)","as":"y"},{"calculate":"(558.8*datum.ub-394.7*datum.vb-43*datum.wb+490)/(1+0.14*datum.ub+0.148*datum.vb-0.0813*datum.wb)","as":"x2"},{"calculate":"(-177.5*datum.ub-182.4*datum.vb-417*datum.wb+947)/(1+0.14*datum.ub+0.148*datum.vb-0.0813*datum.wb)","as":"y2"}],"mark":{"type":"rule"},"encoding":{"x":{"field":"x","type":"quantitative","scale":{"domain":[0,1271]},"axis":null},"y":{"field":"y","type":"quantitative","scale":{"domain":[1020,0]},"axis":null},"x2":{"field":"x2"},"y2":{"field":"y2"},"stroke":{"field":"kind","scale":{"domain":["grid","frame","axis"],"range":["#d4d4d4","#333333","#000000"]},"legend":null},"strokeWidth":{"field":"kind","scale":{"domain":["grid","frame","axis"],"range":[1.3,1.3,2.6]},"legend":null}}},
{"data":{"name":"vticks"},"transform":[{"filter":"datum.g=='c'"},{"calculate":"datum.value/16.5","as":"w"},{"calculate":"datum.major?[0,1,2]:[2]","as":"seg"},{"flatten":["seg"]},{"calculate":"datum.major?0.0125:0.007","as":"l"},{"calculate":"[0,1,1][datum.seg]","as":"ua"},{"calculate":"[1,1,0][datum.seg]","as":"va"},{"calculate":"[1,1,1+datum.l][datum.seg]","as":"ub"},{"calculate":"[1,0,-datum.l][datum.seg]","as":"vb"},{"calculate":"(558.8*datum.ua-394.7*datum.va-43*datum.w+490)/(1+0.14*datum.ua+0.148*datum.va-0.0813*datum.w)","as":"x"},{"calculate":"(-177.5*datum.ua-182.4*datum.va-417*datum.w+947)/(1+0.14*datum.ua+0.148*datum.va-0.0813*datum.w)","as":"y"},{"calculate":"(558.8*datum.ub-394.7*datum.vb-43*datum.w+490)/(1+0.14*datum.ub+0.148*datum.vb-0.0813*datum.w)","as":"x2"},{"calculate":"(-177.5*datum.ub-182.4*datum.vb-417*datum.w+947)/(1+0.14*datum.ub+0.148*datum.vb-0.0813*datum.w)","as":"y2"},{"calculate":"datum.seg<2?'grid':'axis'","as":"kind"}],"mark":{"type":"rule"},"encoding":{"x":{"field":"x","type":"quantitative","scale":{"domain":[0,1271]},"axis":null},"y":{"field":"y","type":"quantitative","scale":{"domain":[1020,0]},"axis":null},"x2":{"field":"x2"},"y2":{"field":"y2"},"stroke":{"field":"kind","scale":{"domain":["grid","frame","axis"],"range":["#d4d4d4","#333333","#000000"]},"legend":null},"strokeWidth":{"field":"kind","scale":{"domain":["grid","frame","axis"],"range":[1.3,1.3,2.6]},"legend":null}}},
{"data":{"name":"bars"},"transform":[{"filter":"datum.g=='c'"},{"calculate":"(datum.i+0.16)/8","as":"u0"},{"calculate":"(datum.i+0.84)/8","as":"u1"},{"calculate":"(datum.percent/10-0.925)/10","as":"v0"},{"calculate":"(datum.percent/10-0.075)/10","as":"v1"},{"calculate":"datum.value/16.5","as":"h"},{"calculate":"[0,1,2]","as":"face"},{"flatten":["face"]},{"calculate":"[0,1,2,3,4]","as":"k"},{"flatten":["k"]},{"calculate":"[[datum.u0,datum.u0,datum.u0,datum.u0],[datum.u0,datum.u1,datum.u1,datum.u0],[datum.u0,datum.u1,datum.u1,datum.u0]][datum.face][datum.k%4]","as":"U"},{"calculate":"[[datum.v0,datum.v1,datum.v1,datum.v0],[datum.v0,datum.v0,datum.v0,datum.v0],[datum.v0,datum.v0,datum.v1,datum.v1]][datum.face][datum.k%4]","as":"V"},{"calculate":"[[0,0,datum.h,datum.h],[0,0,datum.h,datum.h],[datum.h,datum.h,datum.h,datum.h]][datum.face][datum.k%4]","as":"W"},{"calculate":"(558.8*datum.U-394.7*datum.V-43*datum.W+490)/(1+0.14*datum.U+0.148*datum.V-0.0813*datum.W)","as":"x"},{"calculate":"(-177.5*datum.U-182.4*datum.V-417*datum.W+947)/(1+0.14*datum.U+0.148*datum.V-0.0813*datum.W)","as":"y"},{"calculate":"datum.i+'-'+datum.percent+'-'+datum.face","as":"id"}],"mark":{"type":"line","stroke":"#000000","strokeWidth":1.8,"strokeJoin":"round"},"encoding":{"x":{"field":"x","type":"quantitative","scale":{"domain":[0,1271]},"axis":null},"y":{"field":"y","type":"quantitative","scale":{"domain":[1020,0]},"axis":null},"detail":{"field":"id"},"order":{"field":"k"},"fill":{"field":"period","type":"nominal","scale":{"domain":["2-year","3-year","5-year","10-year","20-year","30-year","50-year","100-year"],"range":["#fcfc38","#ffd93b","#cfbc68","#8cbc78","#1bbf92","#00b1ae","#0088d1","#1a46c4"]},"legend":{"orient":"none","legendX":748,"legendY":25,"columns":2,"direction":"horizontal","title":null,"symbolType":"M-2,-1H2V1H-2Z","symbolSize":2070,"symbolStrokeColor":"#000000","symbolStrokeWidth":2,"symbolOffset":22,"labelFont":"Liberation Serif","labelFontSize":42,"labelLimit":400,"labelOffset":28,"labelColor":"#000000","rowPadding":-4,"columnPadding":8,"padding":6,"strokeColor":"#222222","fillColor":"#ffffff"}}}},
{"data":{"name":"catlabels"},"transform":[{"filter":"datum.axis=='period'"},{"calculate":"(558.8*datum.pos+13.8+490)/(1+0.14*datum.pos-0.00518)","as":"x"},{"calculate":"(-177.5*datum.pos+6.4+947)/(1+0.14*datum.pos-0.00518)","as":"y"}],"mark":{"type":"text","font":"Liberation Serif","fontWeight":"bold","fontSize":36,"angle":30,"align":"left","baseline":"middle","color":"#000000"},"encoding":{"x":{"field":"x","type":"quantitative","scale":{"domain":[0,1271]},"axis":null},"y":{"field":"y","type":"quantitative","scale":{"domain":[1020,0]},"axis":null},"text":{"field":"label"}}},
{"data":{"name":"catlabels"},"transform":[{"filter":"datum.axis=='percent'"},{"calculate":"(-16.8-394.7*datum.pos+490)/(1-0.0042+0.148*datum.pos)","as":"x"},{"calculate":"(5.3-182.4*datum.pos+947)/(1-0.0042+0.148*datum.pos)","as":"y"}],"mark":{"type":"text","font":"Liberation Serif","fontWeight":"bold","fontSize":36,"angle":-33,"align":"right","baseline":"middle","color":"#000000"},"encoding":{"x":{"field":"x","type":"quantitative","scale":{"domain":[0,1271]},"axis":null},"y":{"field":"y","type":"quantitative","scale":{"domain":[1020,0]},"axis":null},"text":{"field":"label"}}},
{"data":{"name":"vticks"},"transform":[{"filter":"datum.g=='c'&&datum.major"},{"calculate":"datum.value/16.5","as":"w"},{"calculate":"(1048.8-43*datum.w)/(1.14-0.0813*datum.w)","as":"x"},{"calculate":"(769.5-417*datum.w)/(1.14-0.0813*datum.w)","as":"y"}],"mark":{"type":"text","font":"Liberation Serif","fontWeight":"bold","fontSize":36,"angle":12,"align":"left","baseline":"middle","dx":22,"dy":8,"color":"#000000"},"encoding":{"x":{"field":"x","type":"quantitative","scale":{"domain":[0,1271]},"axis":null},"y":{"field":"y","type":"quantitative","scale":{"domain":[1020,0]},"axis":null},"text":{"field":"value","type":"quantitative","format":"d"}}},
{"data":{"values":[{"t":"(c)"}]},"mark":{"type":"text","font":"Liberation Serif","fontSize":90,"color":"#000000","align":"center","baseline":"middle"},"encoding":{"x":{"datum":210,"type":"quantitative","scale":{"domain":[0,1271]},"axis":null},"y":{"datum":174,"type":"quantitative","scale":{"domain":[1020,0]},"axis":null},"text":{"field":"t"}}},
{"data":{"values":[{"t":"Percent of LID facilities"}]},"mark":{"type":"text","font":"Liberation Serif","fontSize":30,"angle":35,"color":"#000000","align":"center","baseline":"middle"},"encoding":{"x":{"datum":183,"type":"quantitative","scale":{"domain":[0,1271]},"axis":null},"y":{"datum":851,"type":"quantitative","scale":{"domain":[1020,0]},"axis":null},"text":{"field":"t"}}},
{"data":{"values":[{"t":"Performance of TSS"}]},"mark":{"type":"text","font":"Liberation Serif","fontStyle":"italic","fontSize":33,"angle":-80,"color":"#000000","align":"center","baseline":"middle"},"encoding":{"x":{"datum":1009,"type":"quantitative","scale":{"domain":[0,1271]},"axis":null},"y":{"datum":540,"type":"quantitative","scale":{"domain":[1020,0]},"axis":null},"text":{"field":"t"}}},
{"data":{"values":[{"t":"reduction (m³/m²)"}]},"mark":{"type":"text","font":"Liberation Serif","fontStyle":"italic","fontSize":33,"angle":-80,"color":"#000000","align":"center","baseline":"middle"},"encoding":{"x":{"datum":1055,"type":"quantitative","scale":{"domain":[0,1271]},"axis":null},"y":{"datum":572,"type":"quantitative","scale":{"domain":[1020,0]},"axis":null},"text":{"field":"t"}}}
]}
],
"resolve":{"scale":{"fill":"independent","x":"independent","y":"independent"}}}
